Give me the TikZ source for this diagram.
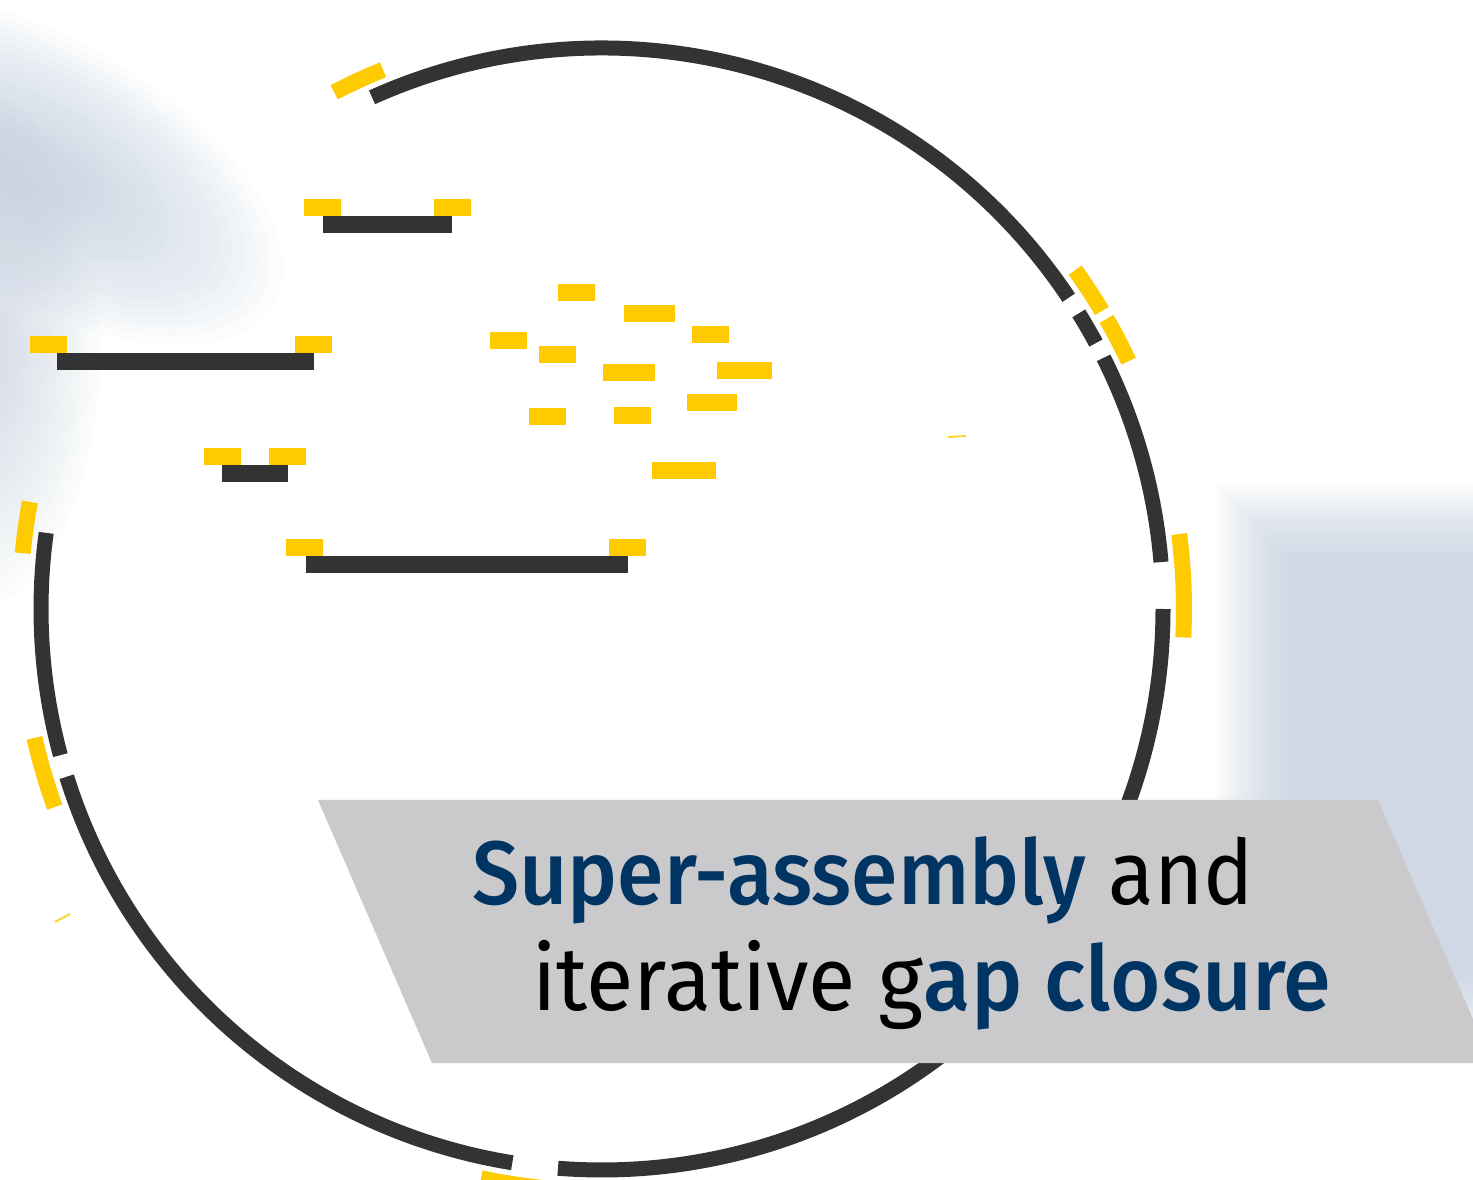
\documentclass[tikz,border=0pt]{standalone}
\usepackage{fontspec}
\setmainfont{Fira Sans}
\newfontfamily\medfont{Fira Sans Medium}
\definecolor{ringdark}{HTML}{333333}
\definecolor{ringyellow}{HTML}{FDCB00}
\definecolor{boxgrey}{HTML}{CACACC}
\definecolor{titleblue}{HTML}{003462}
\definecolor{bgblue}{HTML}{B8C6DA}
\tikzset{
  ringarc/.style={draw=ringdark, line width=15pt},
  tagarc/.style={draw=ringyellow, line width=16pt},
  tagbar/.style={fill=ringyellow},
  contigbar/.style={fill=ringdark},
  titletext/.style={anchor=base west, inner sep=0pt, font=\fontsize{90}{90}\selectfont},
}
\begin{document}
\begin{tikzpicture}[x=1pt,y=1pt]
\useasboundingbox (0,0) rectangle (1473,1179);
\fill[white] (0,0) rectangle (1473,1179);
% soft background panels
\foreach \i in {0,...,15}{
  \fill[bgblue, opacity=0.055] (1215+\i*5, 130+\i*5) rectangle (1473, 695-\i*5);
}
\foreach \i in {0,...,15}{
  \fill[bgblue, opacity=0.05, rotate around={-30:(40,1010)}] (40,1010) ellipse [x radius=270-\i*14, y radius=130-\i*7];
  \fill[bgblue, opacity=0.035] (-30,830) ellipse [x radius=130-\i*6, y radius=260-\i*13];
}
% ring
\coordinate (C) at (602,570);
\foreach \a/\b in {114.2/33.7, 31.8/28.3, 26.6/4.8, 0/-94.5, -99.2/-162.6, -164.9/-187.8}{
  \draw[ringarc] (C) ++(\a:561) arc[start angle=\a, end angle=\b, radius=561];
}
\foreach \a/\b in {112.1/117.4, 30.8/35.6, 25.2/29.9, -2.8/7.4, 169.4/174.5, 192.8/199.9, -102/-94}{
  \draw[tagarc] (C) ++(\a:582) arc[start angle=\a, end angle=\b, radius=582];
}
% faint streaks
\draw[ringyellow, line width=2pt, opacity=0.8] (948,742) -- (966,743);
\draw[ringyellow, line width=2pt, opacity=0.8] (55,257) -- (70,265);
% contigs with end tags
\fill[contigbar] (323,946) rectangle (452,963);
\fill[tagbar] (304,963) rectangle (341,980);
\fill[tagbar] (434,963) rectangle (471,980);
\fill[contigbar] (57,809) rectangle (314,826);
\fill[tagbar] (30,826) rectangle (67,843);
\fill[tagbar] (295,826) rectangle (332,843);
\fill[contigbar] (222,697) rectangle (288,714);
\fill[tagbar] (204,714) rectangle (241,731);
\fill[tagbar] (269,714) rectangle (306,731);
\fill[contigbar] (306,606) rectangle (628,623);
\fill[tagbar] (286,623) rectangle (323,640);
\fill[tagbar] (609,623) rectangle (646,640);
% loose tags
\fill[tagbar] (558,878) rectangle (595,895);
\fill[tagbar] (624,857) rectangle (675,874);
\fill[tagbar] (692,836) rectangle (729,853);
\fill[tagbar] (490,830) rectangle (527,847);
\fill[tagbar] (539,816) rectangle (576,833);
\fill[tagbar] (603,798) rectangle (655,815);
\fill[tagbar] (717,800) rectangle (772,817);
\fill[tagbar] (687,768) rectangle (737,785);
\fill[tagbar] (529,754) rectangle (566,771);
\fill[tagbar] (614,755) rectangle (651,772);
\fill[tagbar] (652,700) rectangle (716,717);
% title box
\fill[boxgrey] (318,379) -- (1378,379) -- (1492,116) -- (432,116) -- cycle;
\node[titletext, xscale=0.934] (line1) at (472,274)
  {{\medfont\color{titleblue}Super-assembly} and};
\node[titletext, xscale=0.961] (line2) at (532,169)
  {iterative g{\medfont\color{titleblue}ap closure}};
\end{tikzpicture}
\end{document}
